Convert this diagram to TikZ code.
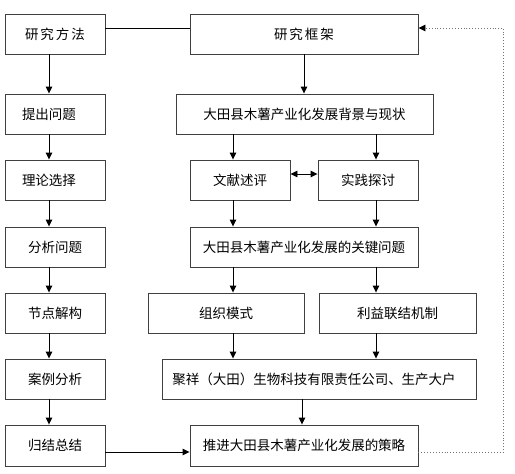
\documentclass[tikz,border=0pt]{standalone}
\usepackage{fontspec}
\newfontfamily\cjk{Noto Sans CJK SC}
\usetikzlibrary{arrows.meta,shadows}
\begin{document}
\begin{tikzpicture}[x=1pt,y=-1pt,
  box/.style={draw=black!75,line width=0.9pt,fill=white,minimum height=40pt,inner sep=0pt,
    font=\cjk\fontsize{13.5}{16}\selectfont,
    drop shadow={shadow xshift=0.9pt,shadow yshift=-0.9pt,fill=black!45,opacity=1}},
  arr/.style={line width=0.9pt,-{Triangle[length=7pt,width=6.5pt]}},
  dbl/.style={line width=0.9pt,{Triangle[length=7pt,width=6.5pt]}-{Triangle[length=7pt,width=6.5pt]}},
  dot/.style={draw=black!55,line width=0.9pt,dotted}]
\useasboundingbox (0,0) rectangle (515,474);
% left column
\node[box,minimum width=100pt] (m1) at (55,34) {研\kern2pt 究\kern2pt 方\kern2pt 法};
\node[box,minimum width=100pt] (m2) at (55,114) {\kern-6pt 提出问题\kern6pt};
\node[box,minimum width=100pt] (m3) at (55,180) {\kern-6pt 理论选择\kern6pt};
\node[box,minimum width=100pt] (m4) at (55,247) {分析问题};
\node[box,minimum width=100pt] (m5) at (55,313) {节点解构};
\node[box,minimum width=100pt] (m6) at (55,379) {案例分析};
\node[box,minimum width=100pt,minimum height=41pt] (m7) at (55,445.5) {归结总结};
% right column
\node[box,minimum width=228pt] (k1) at (304,34) {研\kern2pt 究\kern2pt 框\kern2pt 架};
\node[box,minimum width=257pt] (k2) at (304.5,114) {大田县木薯产业化发展背景与现状};
\node[box,minimum width=100pt] (k3) at (240,180) {文献述评};
\node[box,minimum width=100pt] (k4) at (368,180) {实践探讨};
\node[box,minimum width=228pt] (k5) at (304,247) {大田县木薯产业化发展的关键问题};
\node[box,minimum width=156pt] (k6) at (226,313) {组织模式};
\node[box,minimum width=157pt] (k7) at (397.5,313) {利益联结机制};
\node[box,minimum width=314pt] (k8) at (319,379) {\kern-5pt 聚祥（大田）生物科技有限责任公司、生产大户\kern5pt};
\node[box,minimum width=228pt,minimum height=41pt] (k9) at (304,445.5) {推进大田县木薯产业化发展的策略};
% helper coordinates
\coordinate (cl) at (49,0);
\coordinate (ca) at (233,0);
\coordinate (cb) at (376,0);
\coordinate (cc) at (302,0);
\coordinate (rt) at (503.5,0);
% left arrows
\draw[arr] (m1.south -| cl) -- (m2.north -| cl);
\draw[arr] (m2.south -| cl) -- (m3.north -| cl);
\draw[arr] (m3.south -| cl) -- (m4.north -| cl);
\draw[arr] (m4.south -| cl) -- (m5.north -| cl);
\draw[arr] (m5.south -| cl) -- (m6.north -| cl);
\draw[arr] (m6.south -| cl) -- (m7.north -| cl);
% top link
\draw[line width=0.9pt] ([yshift=6pt]m1.east) -- ([yshift=6pt]k1.west);
% right arrows
\draw[arr] (k1.south) -- (k2.north -| k1.south);
\draw[arr] (k2.south -| ca) -- (k3.north -| ca);
\draw[arr] (k2.south -| cb) -- (k4.north -| cb);
\draw[dbl] ([yshift=6pt]k3.east) -- ([yshift=6pt]k4.west);
\draw[arr] (k3.south -| ca) -- (k5.north -| ca);
\draw[arr] (k4.south -| cb) -- (k5.north -| cb);
\draw[arr] (k5.south -| ca) -- (k6.north -| ca);
\draw[arr] (k5.south -| cb) -- (k7.north -| cb);
\draw[arr] (k6.south -| ca) -- (k8.north -| ca);
\draw[arr] (k7.south -| cb) -- (k8.north -| cb);
\draw[arr] (k8.south -| cc) -- (k9.north -| cc);
\draw[arr] ([yshift=-6.5pt]m7.east) -- ([yshift=-6.5pt]k9.west);
% feedback dotted
\draw[dot,-{Triangle[length=7pt,width=6.5pt,color=black]}] ([yshift=-6.5pt]k9.east) -- ([yshift=-6.5pt]k9.east -| rt) -- ([yshift=6pt]k1.east -| rt) -- ([yshift=6pt]k1.east);
\end{tikzpicture}
\end{document}
